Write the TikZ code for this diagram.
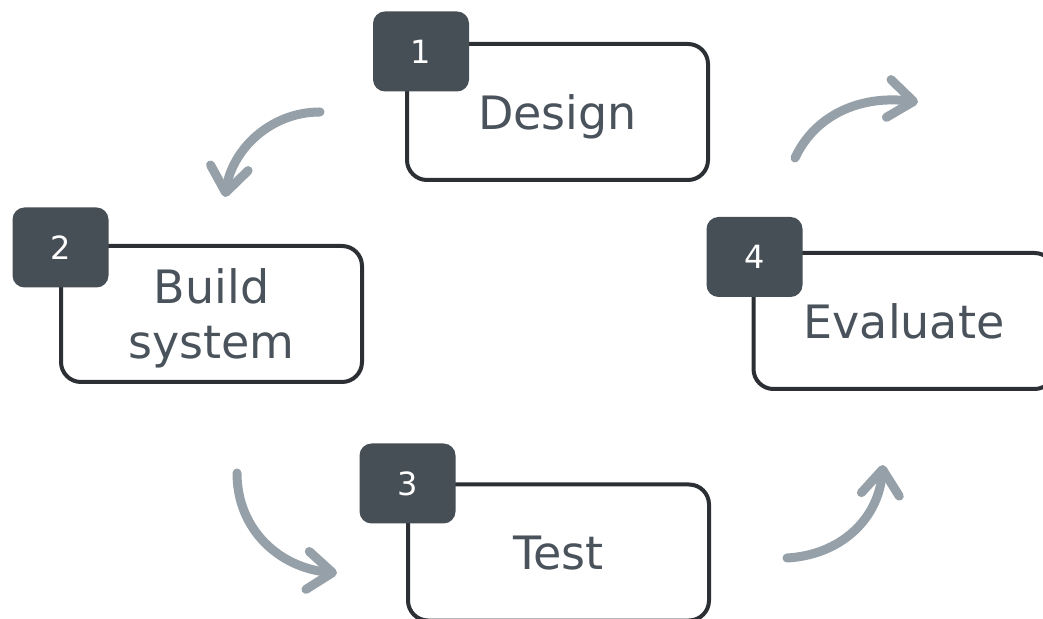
\documentclass[tikz,border=0pt]{standalone}
\usepackage{fontspec}
\setmainfont{DejaVu Sans}
\usetikzlibrary{arrows.meta}

\definecolor{slate}{HTML}{474F56}
\definecolor{edge}{HTML}{2C3034}
\definecolor{ink}{HTML}{4A535B}
\definecolor{flowgray}{HTML}{95A0A8}

\begin{document}
\begin{tikzpicture}
      [
        x=1pt, y=1pt,
        stage/.style={draw=edge, line width=4pt, rounded corners=20pt,
          fill=white, minimum width=301pt, minimum height=136pt,
          align=center, text depth=0pt, text=ink,
          font=\fontsize{46}{55}\selectfont},
        badge/.style={fill=slate, rounded corners=12pt, minimum width=96pt,
          minimum height=80pt, text=white, font=\fontsize{32}{38}\selectfont},
        flow/.style={draw=flowgray, line width=9pt, line cap=round,
          -{Straight Barb[length=25pt,width=38pt,round]}}
      ]
      \useasboundingbox (0,0) rectangle (1043,618);
      \clip (0,0) rectangle (1043,618);
      % stages
      \node [stage] (design) at (557.5,506) {Design};
      \node [stage] (build)  at (211.5,304) {Build\\system};
      \node [stage] (test)   at (558.5,65.5) {Test};
      \node [stage] (eval)   at (904,297)   {Evaluate};
      % numbers
      \node [badge] (n1) at (421,566.5) {1};
      \node [badge] (n2) at (60.5,370.5) {2};
      \node [badge] (n3) at (407.5,134.5) {3};
      \node [badge] (n4) at (754.5,361) {4};
      % arrow ends
      \coordinate (s1) at (320,506);
      \coordinate (e1) at (225,421);
      \coordinate (s2) at (237,145);
      \coordinate (e2) at (337,45);
      \coordinate (s3) at (787,60);
      \coordinate (e3) at (883,153);
      \coordinate (s4) at (795,460);
      \coordinate (e4) at (918,516);
      % arrows
      \draw [flow] (s1) .. controls (270,506) and (232,468) .. (e1);
      \draw [flow] (s2) .. controls (237,88) and (280,50) .. (e2);
      \draw [flow] (s3) .. controls (840,63) and (878,98) .. (e3);
      \draw [flow] (s4) .. controls (815,503) and (860,523) .. (e4);
    \end{tikzpicture}
\end{document}
